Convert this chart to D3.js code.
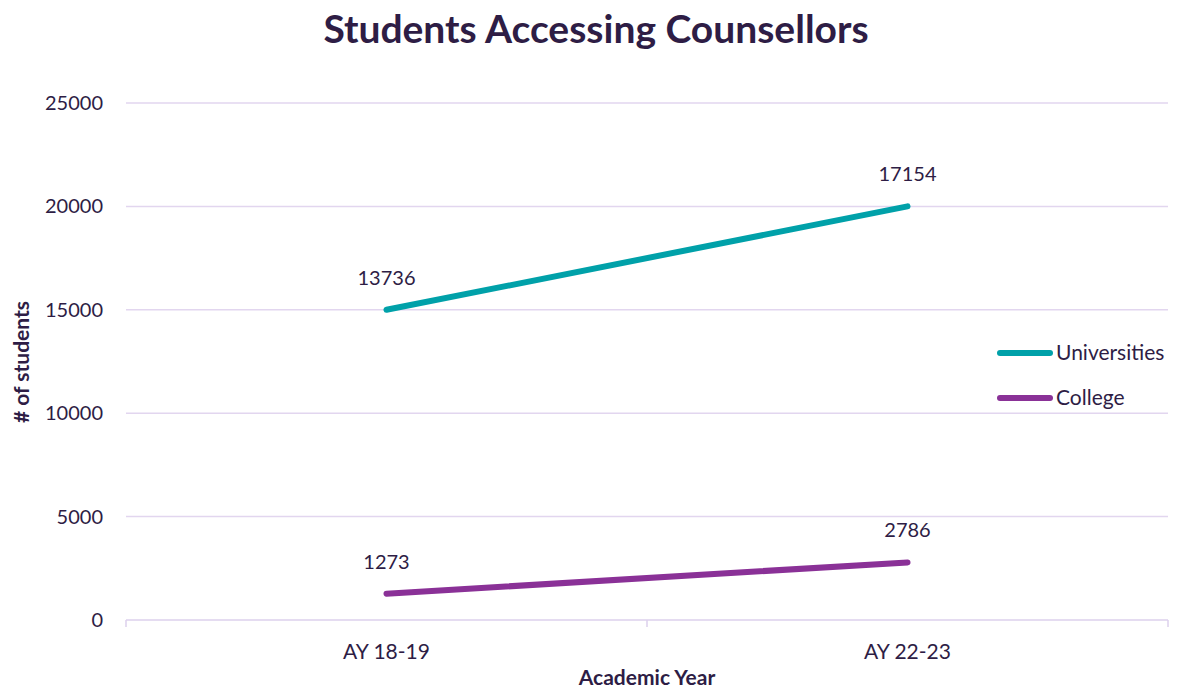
<!DOCTYPE html>
<html>
<head>
<meta charset="utf-8">
<script src="https://cdn.jsdelivr.net/npm/d3@7/dist/d3.min.js"></script>
<style>
  body { margin: 0; background: #fff; }
  text { font-family: Lato, 'Open Sans', sans-serif; fill: #2e1d45; }
</style>
</head>
<body>
<svg id="chart" width="1178" height="689"></svg>
<script>
// chart data
const years = ['AY 18-19', 'AY 22-23'];
const seriesNames = ['Universities', 'College'];
const uniValues = [15000, 20000];
const uniLabels = ['13736', '17154'];
const collegeValues = [1273, 2786];
const collegeLabels = ['1273', '2786'];
const yTicks = [0, 5000, 10000, 15000, 20000, 25000];
const colors = ['#00a1a9', '#8a3197'];

const series = [
  { name: seriesNames[0], values: uniValues, labels: uniLabels, color: colors[0] },
  { name: seriesNames[1], values: collegeValues, labels: collegeLabels, color: colors[1] },
];

// plot area
const pLeft = 126,
  pRight = 1168,
  pTop = 103,
  pBottom = 620;

const svg = d3.select('#chart');

const x = d3.scaleBand().domain(years).range([pLeft, pRight]);
const y = d3.scaleLinear().domain([0, 25000]).range([pBottom, pTop]);

// title
svg
  .append('text')
  .attr('x', 596)
  .attr('y', 43)
  .attr('text-anchor', 'middle')
  .style('font-size', '39px')
  .style('font-weight', 'bold')
  .text('Students Accessing Counsellors');

// gridlines
svg
  .append('g')
  .selectAll('line')
  .data(yTicks.slice(1))
  .join('line')
  .attr('x1', pLeft)
  .attr('x2', pRight)
  .attr('y1', (d) => y(d))
  .attr('y2', (d) => y(d))
  .attr('stroke', '#e2d6ef')
  .attr('stroke-width', 1.5);

// y tick labels
svg
  .append('g')
  .selectAll('text')
  .data(yTicks)
  .join('text')
  .attr('x', 103)
  .attr('y', (d) => y(d))
  .attr('dy', '0.35em')
  .attr('text-anchor', 'end')
  .style('font-size', '20px')
  .text((d) => d);

// x axis line + ticks
const xAxis = svg.append('g').attr('stroke', '#ddd0ec').attr('stroke-width', 1.5);
xAxis.append('line').attr('x1', pLeft).attr('x2', pRight).attr('y1', pBottom).attr('y2', pBottom);
xAxis
  .selectAll('.tick')
  .data([pLeft, ...years.slice(1).map((d) => x(d)), pRight])
  .join('line')
  .attr('x1', (d) => d)
  .attr('x2', (d) => d)
  .attr('y1', pBottom)
  .attr('y2', pBottom + 7);

// category labels
svg
  .append('g')
  .selectAll('text')
  .data(years)
  .join('text')
  .attr('x', (d) => x(d) + x.bandwidth() / 2)
  .attr('y', 652)
  .attr('dy', '0.35em')
  .attr('text-anchor', 'middle')
  .style('font-size', '21px')
  .text((d) => d);

// axis titles
svg
  .append('text')
  .attr('x', 647)
  .attr('y', 678)
  .attr('dy', '0.35em')
  .attr('text-anchor', 'middle')
  .style('font-size', '21px')
  .style('font-weight', 'bold')
  .text('Academic Year');

svg
  .append('text')
  .attr('transform', 'translate(22,362) rotate(-90)')
  .attr('dy', '0.35em')
  .attr('text-anchor', 'middle')
  .style('font-size', '21px')
  .style('font-weight', 'bold')
  .text('# of students');

// lines
const line = d3
  .line()
  .x((d, i) => x(years[i]) + x.bandwidth() / 2)
  .y((d) => y(d));

series.forEach((s) => {
  svg
    .append('path')
    .attr('d', line(s.values))
    .attr('fill', 'none')
    .attr('stroke', s.color)
    .attr('stroke-width', 6)
    .attr('stroke-linecap', 'round');

  svg
    .append('g')
    .selectAll('text')
    .data(s.values)
    .join('text')
    .attr('x', (d, i) => x(years[i]) + x.bandwidth() / 2)
    .attr('y', (d) => y(d) - 32)
    .attr('dy', '0.35em')
    .attr('text-anchor', 'middle')
    .style('font-size', '20px')
    .text((d, i) => s.labels[i]);
});

// legend
const legend = svg
  .append('g')
  .selectAll('g')
  .data(series)
  .join('g')
  .attr('transform', (d, i) => `translate(1000, ${353 + i * 45})`);

legend
  .append('line')
  .attr('x1', 0)
  .attr('x2', 50)
  .attr('stroke', (d) => d.color)
  .attr('stroke-width', 6)
  .attr('stroke-linecap', 'round');

legend
  .append('text')
  .attr('x', 56)
  .attr('dy', '0.35em')
  .style('font-size', '21px')
  .text((d) => d.name);
</script>
</body>
</html>
